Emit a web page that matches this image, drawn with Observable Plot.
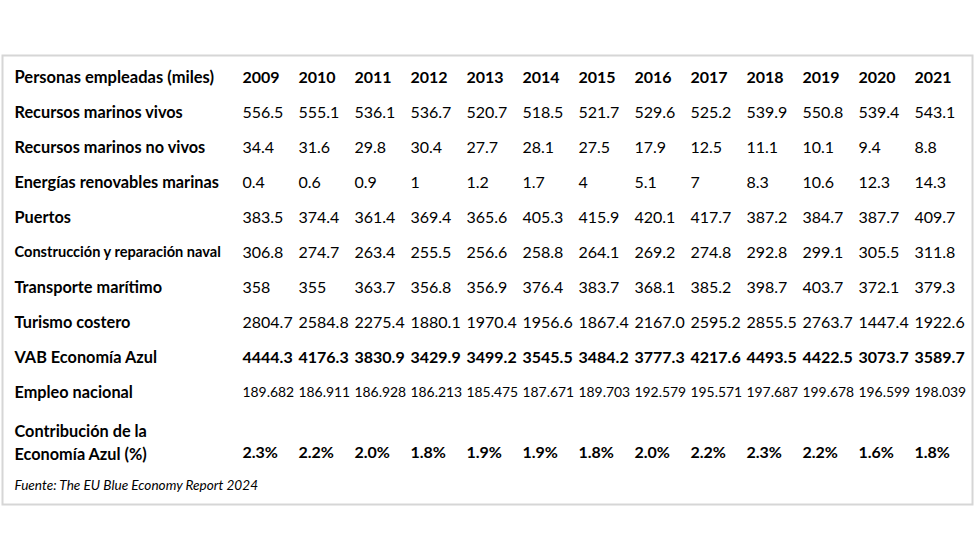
<!DOCTYPE html>
<html>
<head>
<meta charset="utf-8">
<script src="https://cdn.jsdelivr.net/npm/d3@7"></script>
<script src="https://cdn.jsdelivr.net/npm/@observablehq/plot@0.6"></script>
<style>
  html, body { margin: 0; padding: 0; background: #fff; }
</style>
</head>
<body>
<div id="chart"></div>
<script>
const years = [2009, 2010, 2011, 2012, 2013, 2014, 2015, 2016, 2017, 2018, 2019, 2020, 2021];

const headerLabel = "Personas empleadas (miles)";
const rowLabels = [
  "Recursos marinos vivos",
  "Recursos marinos no vivos",
  "Energías renovables marinas",
  "Puertos",
  "Construcción y reparación naval",
  "Transporte marítimo",
  "Turismo costero",
  "VAB Economía Azul",
  "Empleo nacional",
  "Contribución de la\nEconomía Azul (%)"
];

const recursosVivos   = [556.5, 555.1, 536.1, 536.7, 520.7, 518.5, 521.7, 529.6, 525.2, 539.9, 550.8, 539.4, 543.1];
const recursosNoVivos = [34.4, 31.6, 29.8, 30.4, 27.7, 28.1, 27.5, 17.9, 12.5, 11.1, 10.1, 9.4, 8.8];
const energias        = [0.4, 0.6, 0.9, 1, 1.2, 1.7, 4, 5.1, 7, 8.3, 10.6, 12.3, 14.3];
const puertos         = [383.5, 374.4, 361.4, 369.4, 365.6, 405.3, 415.9, 420.1, 417.7, 387.2, 384.7, 387.7, 409.7];
const construccion    = [306.8, 274.7, 263.4, 255.5, 256.6, 258.8, 264.1, 269.2, 274.8, 292.8, 299.1, 305.5, 311.8];
const transporte      = [358, 355, 363.7, 356.8, 356.9, 376.4, 383.7, 368.1, 385.2, 398.7, 403.7, 372.1, 379.3];
const turismo         = [2804.7, 2584.8, 2275.4, 1880.1, 1970.4, 1956.6, 1867.4, 2167.0, 2595.2, 2855.5, 2763.7, 1447.4, 1922.6];
const vab             = [4444.3, 4176.3, 3830.9, 3429.9, 3499.2, 3545.5, 3484.2, 3777.3, 4217.6, 4493.5, 4422.5, 3073.7, 3589.7];
const empleo          = [189.682, 186.911, 186.928, 186.213, 185.475, 187.671, 189.703, 192.579, 195.571, 197.687, 199.678, 196.599, 198.039];
const contribucion    = [2.3, 2.2, 2.0, 1.8, 1.9, 1.9, 1.8, 2.0, 2.2, 2.3, 2.2, 1.6, 1.8];

const source = "Fuente: The EU Blue Economy Report 2024";

// build cell tables
const cells = (label, values, fmt) =>
  values.map((v, i) => ({row: label, year: years[i], text: fmt ? fmt(v) : String(v)}));

const regularRows = [
  ...cells(rowLabels[0], recursosVivos),
  ...cells(rowLabels[1], recursosNoVivos),
  ...cells(rowLabels[2], energias),
  ...cells(rowLabels[3], puertos),
  ...cells(rowLabels[4], construccion),
  ...cells(rowLabels[5], transporte),
  ...cells(rowLabels[6], turismo, v => v.toFixed(1))
];
const vabRow = cells(rowLabels[7], vab, v => v.toFixed(1));
const empleoRow = cells(rowLabels[8], empleo, v => v.toFixed(3));
const contribRow = cells(rowLabels[9], contribucion, v => v.toFixed(1) + "%");

const yDomain = [headerLabel, ...rowLabels];
const normalLabels = rowLabels.filter((d, i) => i !== 4 && i !== 9);

const chart = Plot.plot({
  width: 980,
  height: 560,
  marginLeft: 2,
  marginRight: 8,
  marginTop: 55,
  marginBottom: 56,
  style: {fontFamily: "Lato, sans-serif", color: "#000", background: "#fff"},
  x: {type: "point", domain: years, range: [240, 915], padding: 0, axis: null},
  y: {type: "point", domain: yDomain, range: [73, 431], padding: 0, axis: null},
  marks: [
    Plot.frame({stroke: "#d6d6d6", strokeWidth: 2}),
    // header
    Plot.text([headerLabel], {y: d => d, frameAnchor: "left", dx: 12, text: d => d, textAnchor: "start", fontWeight: "bold", fontSize: 16.5, fill: "#000"}),
    Plot.text(years, {x: d => d, y: () => headerLabel, text: d => String(d), textAnchor: "start", fontWeight: "bold", fontSize: 16, fill: "#000"}),
    // row labels
    Plot.text(normalLabels, {y: d => d, frameAnchor: "left", dx: 12, text: d => d, textAnchor: "start", fontWeight: "bold", fontSize: 16.3, fill: "#000"}),
    Plot.text([rowLabels[4]], {y: d => d, frameAnchor: "left", dx: 12, text: d => d, textAnchor: "start", fontWeight: "bold", fontSize: 14.6, fill: "#000"}),
    Plot.text([rowLabels[9]], {y: d => d, frameAnchor: "left", dx: 12, dy: 13.5, text: d => d, textAnchor: "start", fontWeight: "bold", fontSize: 16.3, lineHeight: 1.4, fill: "#000"}),
    // values
    Plot.text(regularRows, {x: "year", y: "row", text: "text", textAnchor: "start", fontSize: 16, fill: "#000"}),
    Plot.text(vabRow, {x: "year", y: "row", text: "text", textAnchor: "start", fontWeight: "bold", fontSize: 16, fill: "#000"}),
    Plot.text(empleoRow, {x: "year", y: "row", text: "text", textAnchor: "start", fontSize: 13.9, fill: "#000"}),
    Plot.text(contribRow, {x: "year", y: "row", dy: 25, text: "text", textAnchor: "start", fontWeight: "bold", fontSize: 16, fill: "#000"}),
    // source
    Plot.text([source], {frameAnchor: "bottom-left", dx: 12, dy: -15, text: d => d, textAnchor: "start", fontStyle: "italic", fontSize: 13.6, fill: "#000"})
  ]
});

document.getElementById("chart").appendChild(chart);
</script>
</body>
</html>
